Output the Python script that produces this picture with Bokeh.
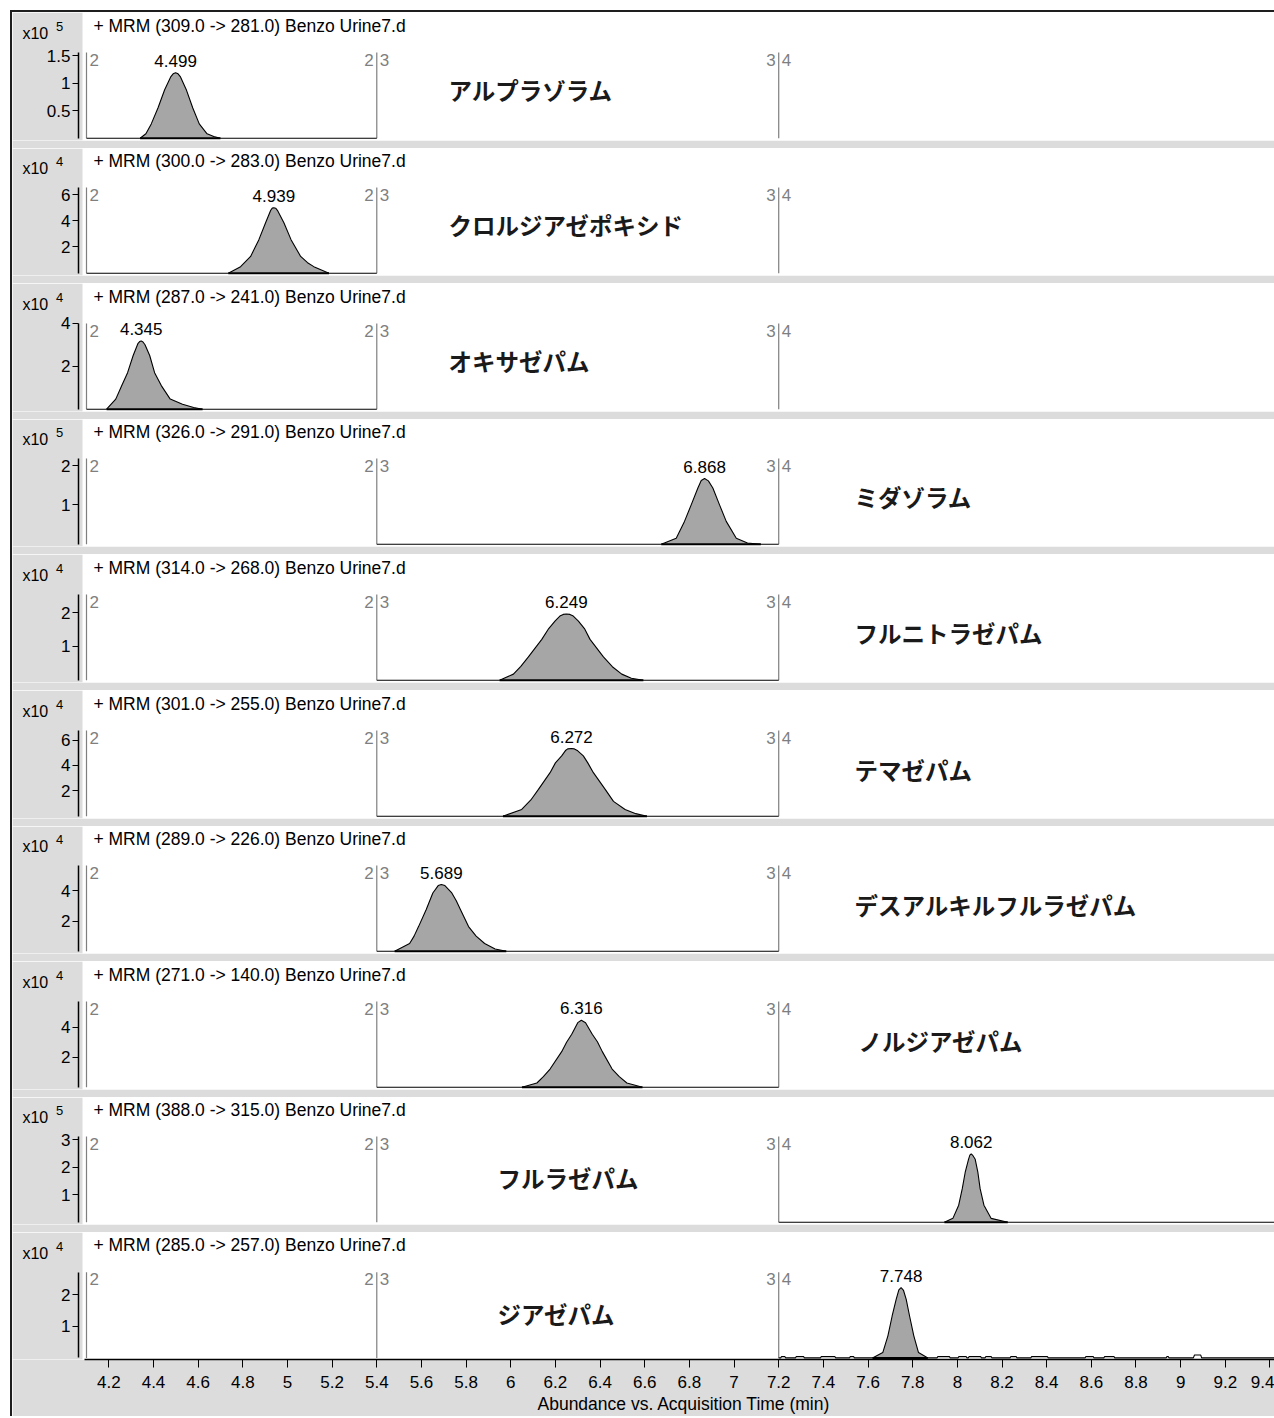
from bokeh.plotting import figure
from bokeh.models import FixedTicker, Label, BoxAnnotation, Title
from bokeh.layouts import column
from bokeh.embed import file_html
from bokeh.resources import INLINE
from bokeh.core.properties import value

# ---------------- data ----------------
compounds = ["アルプラゾラム", "クロルジアゼポキシド", "オキサゼパム", "ミダゾラム",
             "フルニトラゼパム", "テマゼパム", "デスアルキルフルラゼパム", "ノルジアゼパム",
             "フルラゼパム", "ジアゼパム"]
transitions = ["309.0 -> 281.0", "300.0 -> 283.0", "287.0 -> 241.0", "326.0 -> 291.0",
               "314.0 -> 268.0", "301.0 -> 255.0", "289.0 -> 226.0", "271.0 -> 140.0",
               "388.0 -> 315.0", "285.0 -> 257.0"]
exponents = [5, 4, 4, 5, 4, 4, 4, 4, 5, 4]
y_ticks = [[0.5, 1, 1.5], [2, 4, 6], [2, 4], [1, 2], [1, 2],
           [2, 4, 6], [2, 4], [2, 4], [1, 2, 3], [1, 2]]
y_tick_labels = [["0.5", "1", "1.5"], ["2", "4", "6"], ["2", "4"], ["1", "2"], ["1", "2"],
                 ["2", "4", "6"], ["2", "4"], ["2", "4"], ["1", "2", "3"], ["1", "2"]]
y_axis_max = [1.558, 6.54, 3.99, 2.18, 2.54, 6.75, 5.68, 5.71, 3.12, 2.72]
acq_segment = [2, 2, 2, 3, 3, 3, 3, 3, 4, 4]
retention_times = [4.499, 4.939, 4.345, 6.868, 6.249, 6.272, 5.689, 6.316, 8.062, 7.748]

peak_times = [
    [4.340, 4.366, 4.390, 4.420, 4.450, 4.478, 4.488, 4.499, 4.510, 4.520, 4.548, 4.576,
     4.605, 4.640, 4.670, 4.700],
    [4.735, 4.790, 4.835, 4.872, 4.902, 4.925, 4.932, 4.939, 4.947, 4.955, 4.984, 5.016,
     5.059, 5.090, 5.118, 5.186],
    [4.190, 4.231, 4.258, 4.284, 4.309, 4.330, 4.338, 4.345, 4.353, 4.362, 4.383, 4.405,
     4.435, 4.475, 4.530, 4.580, 4.620],
    [6.674, 6.741, 6.778, 6.808, 6.838, 6.853, 6.868, 6.885, 6.905, 6.935, 6.965, 7.010,
     7.060, 7.120],
    [5.950, 6.012, 6.045, 6.079, 6.139, 6.170, 6.199, 6.220, 6.235, 6.249, 6.265, 6.280,
     6.303, 6.330, 6.355, 6.415, 6.455, 6.497, 6.540, 6.594],
    [5.965, 6.049, 6.090, 6.124, 6.176, 6.200, 6.228, 6.245, 6.255, 6.272, 6.285, 6.300,
     6.325, 6.345, 6.370, 6.423, 6.460, 6.512, 6.560, 6.610],
    [5.480, 5.547, 5.567, 5.587, 5.621, 5.651, 5.675, 5.689, 5.705, 5.736, 5.756, 5.775,
     5.811, 5.845, 5.883, 5.930, 5.980],
    [6.050, 6.117, 6.146, 6.176, 6.228, 6.250, 6.273, 6.300, 6.316, 6.335, 6.365, 6.388,
     6.410, 6.454, 6.486, 6.520, 6.590],
    [7.942, 7.980, 8.006, 8.022, 8.035, 8.050, 8.056, 8.062, 8.070, 8.080, 8.092, 8.102,
     8.119, 8.151, 8.226],
    [7.620, 7.666, 7.689, 7.708, 7.726, 7.738, 7.748, 7.759, 7.771, 7.786, 7.805, 7.826,
     7.868],
]
peak_heights = [
    [0.00, 0.08, 0.26, 0.55, 0.88, 1.12, 1.17, 1.19, 1.17, 1.12, 0.87, 0.55,
     0.26, 0.08, 0.03, 0.00],
    [0.00, 0.50, 1.28, 2.56, 3.85, 4.80, 4.97, 5.00, 4.96, 4.80, 3.85, 2.56,
     1.28, 0.80, 0.50, 0.00],
    [0.00, 0.47, 1.10, 1.70, 2.50, 3.05, 3.15, 3.18, 3.13, 3.00, 2.50, 1.70,
     1.10, 0.47, 0.23, 0.08, 0.00],
    [0.00, 0.15, 0.58, 1.00, 1.43, 1.62, 1.67, 1.61, 1.43, 1.00, 0.58, 0.15,
     0.03, 0.00],
    [0.00, 0.18, 0.41, 0.69, 1.21, 1.53, 1.76, 1.90, 1.95, 1.96, 1.95, 1.90,
     1.75, 1.53, 1.21, 0.69, 0.40, 0.18, 0.06, 0.00],
    [0.00, 0.53, 1.28, 2.11, 3.43, 4.20, 4.75, 5.17, 5.30, 5.33, 5.30, 5.15,
     4.75, 4.20, 3.43, 2.11, 1.17, 0.53, 0.20, 0.00],
    [0.00, 0.51, 1.00, 1.63, 2.75, 3.86, 4.35, 4.42, 4.35, 3.86, 3.35, 2.75,
     1.63, 1.00, 0.51, 0.15, 0.00],
    [0.00, 0.28, 0.70, 1.21, 2.37, 3.00, 3.53, 4.30, 4.46, 4.30, 3.53, 3.03,
     2.37, 1.21, 0.70, 0.28, 0.00],
    [0.00, 0.14, 0.62, 1.22, 1.81, 2.29, 2.44, 2.49, 2.42, 2.29, 1.81, 1.22,
     0.62, 0.14, 0.00],
    [0.00, 0.17, 0.70, 1.33, 1.86, 2.16, 2.23, 2.14, 1.86, 1.33, 0.70, 0.17,
     0.00],
]

# baseline noise of the 285 -> 257 trace (outside its peak)
diazepam_noise_t = [7.200, 7.209, 7.212, 7.228, 7.231, 7.275, 7.278, 7.312, 7.315, 7.387,
                    7.390, 7.452, 7.455, 7.517, 7.520, 7.536, 7.539, 7.600,
                    7.909, 7.912, 7.965, 7.968, 8.003, 8.006, 8.040, 8.043, 8.049, 8.052,
                    8.105, 8.108, 8.124, 8.127, 8.152, 8.155, 8.236, 8.239, 8.264, 8.267,
                    8.329, 8.332, 8.404, 8.407, 8.572, 8.575, 8.609, 8.612, 8.656, 8.659,
                    8.702, 8.705, 8.935, 8.938, 8.945, 8.948, 9.057, 9.062, 9.090, 9.094]
diazepam_noise_h = [0.00, 0.00, 0.04, 0.04, 0.00, 0.00, 0.04, 0.04, 0.00, 0.00,
                    0.04, 0.04, 0.00, 0.00, 0.04, 0.04, 0.00, 0.00,
                    0.00, 0.04, 0.04, 0.00, 0.00, 0.04, 0.04, 0.00, 0.00, 0.04,
                    0.04, 0.00, 0.00, 0.04, 0.04, 0.00, 0.00, 0.04, 0.04, 0.00,
                    0.00, 0.04, 0.04, 0.00, 0.00, 0.04, 0.04, 0.00, 0.00, 0.04,
                    0.04, 0.00, 0.00, 0.04, 0.04, 0.00, 0.00, 0.09, 0.09, 0.00]
baseline_noise = {9: (diazepam_noise_t, diazepam_noise_h)}

segment_ranges = {2: (4.1, 5.4), 3: (5.4, 7.2), 4: (7.2, 9.42)}
segment_edges = [4.1, 5.4, 7.2]
edge_left_labels = ["2", "3"]          # written left of the 5.4 and 7.2 edges
edge_right_labels = ["2", "3", "4"]    # written right of the 4.1, 5.4 and 7.2 edges

x_ticks = [4.2, 4.4, 4.6, 4.8, 5, 5.2, 5.4, 5.6, 5.8, 6, 6.2, 6.4, 6.6, 6.8, 7,
           7.2, 7.4, 7.6, 7.8, 8, 8.2, 8.4, 8.6, 8.8, 9, 9.2, 9.4]
x_tick_labels = ["4.2", "4.4", "4.6", "4.8", "5", "5.2", "5.4", "5.6", "5.8", "6",
                 "6.2", "6.4", "6.6", "6.8", "7", "7.2", "7.4", "7.6", "7.8", "8",
                 "8.2", "8.4", "8.6", "8.8", "9", "9.2", "9.4"]
x_title = "Abundance vs. Acquisition Time (min)"

# ---------------- layout / style ----------------
FONT = "Liberation Sans"
JP_FONT = "Noto Sans CJK JP"
GRAY_BG = "#dcdcdc"
PEAK_FILL = "#a6a6a6"
EDGE_COLOR = "#7f7f7f"

FIG_W = 1262
GAP = 8
LAST_BOTTOM = 57
PLOT_PX = 85.7        # px from zero line up to the top of the y axis
X_START, X_END = 3.7686, 9.4203
Y_AXIS_AT = 4.0642    # time at which the y axis line sits (inside the gray margin)
WHITE_EDGE = 4.0821   # start of the white trace area
X_AXIS_FROM = 4.091
panel_heights = [136, 135, 136, 135, 136, 136, 135, 136, 135, 184]
base_pad = [2.3] * 9 + [1.6]   # px between zero line and bottom of white area

HEADER_X = 4.131
EXP_X, EXP_SUP_X = 3.813, 3.963
name_x = [5.721, 5.721, 5.721, 7.539, 7.539, 7.539, 7.539, 7.557, 5.941, 5.941]
name_px = [48.5, 48.2, 48.0, 47.5, 47.0, 46.7, 46.3, 46.0, 44.5, 44.0]
HEADER_PX = 112.5
EXP_PX = 104.8
EXP_SUP_PX = 111.5
TITLE_OFFSET = 525    # px from the left of the frame to the start of the x title

figs = []
n = len(compounds)
for i in range(n):
    last = i == n - 1
    h = panel_heights[i]
    bottom = LAST_BOTTOM if last else GAP
    frame_h = h - bottom
    ymax = y_axis_max[i]
    ppu = PLOT_PX / ymax
    pad = base_pad[i]

    p = figure(width=FIG_W, height=h,
               x_range=(X_START, X_END),
               y_range=(-pad / ppu, (frame_h - pad) / ppu),
               output_backend="svg", toolbar_location=None,
               x_axis_location="below" if last else None,
               min_border_left=0, min_border_right=0,
               min_border_top=0, min_border_bottom=bottom)
    p.background_fill_color = "white"
    p.border_fill_color = GRAY_BG
    p.outline_line_color = None
    p.xgrid.visible = False
    p.ygrid.visible = False

    # gray margin on the left, holding the y axis
    p.add_layout(BoxAnnotation(right=WHITE_EDGE, fill_color=GRAY_BG, fill_alpha=1.0,
                               line_color=None, level="underlay"))

    ya = p.yaxis[0]
    ya.fixed_location = Y_AXIS_AT
    ya.ticker = FixedTicker(ticks=y_ticks[i])
    ya.major_label_overrides = dict(zip(y_ticks[i], y_tick_labels[i]))
    ya.bounds = (0, ymax)
    ya.axis_line_color = "black"
    ya.axis_line_width = 1.5
    ya.major_tick_line_color = "black"
    ya.major_tick_out = 6
    ya.major_tick_in = 0
    ya.minor_tick_out = 0
    ya.minor_tick_in = 0
    ya.major_label_standoff = 2
    ya.major_label_text_font = FONT
    ya.major_label_text_font_size = "17px"
    ya.major_label_text_color = "black"

    if last:
        xa = p.xaxis[0]
        xa.ticker = FixedTicker(ticks=x_ticks)
        xa.major_label_overrides = dict(zip(x_ticks, x_tick_labels))
        xa.bounds = (X_AXIS_FROM, X_END)
        xa.axis_line_color = "black"
        xa.axis_line_width = 1.5
        xa.major_tick_line_color = "black"
        xa.major_tick_out = 8
        xa.major_tick_in = 0
        xa.minor_tick_out = 0
        xa.minor_tick_in = 0
        xa.major_label_standoff = 8
        xa.major_label_text_font = FONT
        xa.major_label_text_font_size = "17px"
        xa.major_label_text_color = "black"
        p.add_layout(Title(text=x_title, align="left", offset=TITLE_OFFSET, standoff=2,
                           text_font=FONT, text_font_size="17.5px",
                           text_font_style="normal", text_color="black"), "below")

    # acquisition segment edges and their numbers
    y_top = ymax
    p.segment(x0=segment_edges, y0=[0] * 3, x1=segment_edges, y1=[y_top] * 3,
              line_color=EDGE_COLOR, line_width=1.2)
    p.text(x=segment_edges, y=[y_top] * 3, text=edge_right_labels,
           text_font=value(FONT), text_font_size="17px", text_color=EDGE_COLOR,
           text_align="left", text_baseline="top", x_offset=3, y_offset=1)
    p.text(x=segment_edges[1:], y=[y_top] * 2, text=edge_left_labels,
           text_font=value(FONT), text_font_size="17px", text_color=EDGE_COLOR,
           text_align="right", text_baseline="top", x_offset=-3, y_offset=1)

    # chromatogram trace within its acquisition segment
    s0, s1 = segment_ranges[acq_segment[i]]
    pts = list(zip(peak_times[i], peak_heights[i]))
    if i in baseline_noise:
        pts += list(zip(*baseline_noise[i]))
    pts.append((s0, 0.0))
    pts.append((s1, 0.0))
    pts.sort(key=lambda v: v[0])
    trace_t = [v[0] for v in pts]
    trace_h = [v[1] for v in pts]

    p.varea(x=peak_times[i], y1=[0] * len(peak_times[i]), y2=peak_heights[i],
            fill_color=PEAK_FILL)
    p.line(trace_t, trace_h, line_color="black", line_width=1.1)
    p.line([peak_times[i][0], peak_times[i][-1]], [0, 0], line_color="black", line_width=2)

    # retention-time label at the apex
    k = max(range(len(peak_heights[i])), key=lambda j: peak_heights[i][j])
    p.text(x=[peak_times[i][k]], y=[peak_heights[i][k]],
           text=[f"{retention_times[i]:.3f}"],
           text_font=value(FONT), text_font_size="17px", text_color="black",
           text_align="center", text_baseline="bottom", y_offset=-6)

    # header, exponent and compound name
    p.add_layout(Label(x=HEADER_X, y=HEADER_PX / ppu,
                       text=f"+ MRM ({transitions[i]}) Benzo Urine7.d",
                       text_font=FONT, text_font_size="17.5px", text_color="black",
                       text_baseline="middle", text_align="left"))
    p.add_layout(Label(x=EXP_X, y=EXP_PX / ppu, text="x10",
                       text_font=FONT, text_font_size="16px", text_color="black",
                       text_baseline="middle", text_align="left"))
    p.add_layout(Label(x=EXP_SUP_X, y=EXP_SUP_PX / ppu, text=str(exponents[i]),
                       text_font=FONT, text_font_size="13px", text_color="black",
                       text_baseline="middle", text_align="left"))
    p.add_layout(Label(x=name_x[i], y=name_px[i] / ppu, text=compounds[i],
                       text_font=JP_FONT, text_font_size="23.5px", text_font_style="bold",
                       text_color="#1a1a1a", text_baseline="middle", text_align="left"))
    figs.append(p)

layout = column(*figs, spacing=0, margin=(10, 0, 0, 10),
                styles={"border-left": "2px solid #1e1e1e", "border-top": "2px solid #1e1e1e"})

open("out.html", "w").write(file_html(layout, INLINE, "MRM chromatograms"))
